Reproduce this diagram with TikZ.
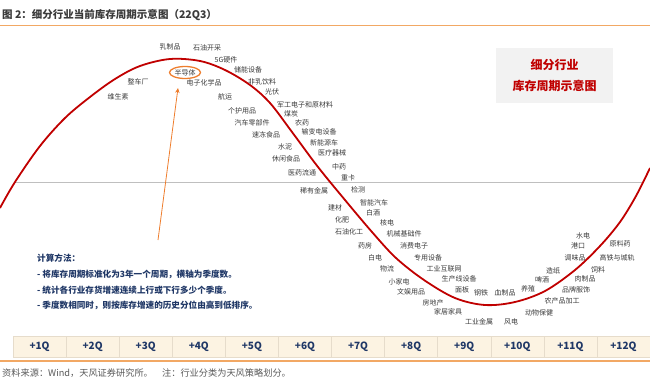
\documentclass[tikz,border=0pt]{standalone}
\usepackage{fontspec}
\setmainfont{Noto Sans CJK SC}
\usetikzlibrary{arrows.meta,shapes.geometric}
\definecolor{cyclered}{HTML}{C00000}
\definecolor{semiorange}{HTML}{EE7D2C}
\definecolor{rulecolor}{HTML}{F2A864}
\definecolor{labgray}{HTML}{3A3A3A}
\definecolor{navy}{HTML}{1F3766}
\definecolor{bandfill}{HTML}{FCF3E2}
\definecolor{bandline}{HTML}{E6DCCB}

\begin{document}
\begin{tikzpicture}[x=1pt,y=-1pt,
lab/.style={font=\fontsize{7}{7.5}\selectfont,text=labgray,inner sep=0pt},
meth/.style={anchor=west,inner sep=0pt,font=\fontsize{8.6}{9}\selectfont\bfseries,text=navy},
qcell/.style={draw=bandline,fill=bandfill,minimum width=53.08pt,minimum height=21pt,inner sep=0pt,font=\fontsize{10}{11}\selectfont\bfseries,text=navy},
arr/.style={-{Stealth[length=5pt,width=4.5pt]},draw=semiorange,line width=0.8pt}]
\useasboundingbox (0,0) rectangle (650,383);
% title and rules
\node[anchor=west,inner sep=0pt,font=\fontsize{10.5}{11}\selectfont\bfseries,text=labgray] (title) at (2,15) {图 2：细分行业当前库存周期示意图（22Q3）};
\coordinate (rtl) at (0,25.5); \coordinate (rtr) at (650,25.5);
\draw[rulecolor,line width=1.4pt] (rtl)--(rtr);
% legend box
\node[fill=black!5,minimum width=117pt,minimum height=55pt,align=center,font=\fontsize{12}{21}\selectfont\bfseries,text=cyclered] (key) at (554.5,75.5) {细分行业\\库存周期示意图};
% mid line and cycle curve
\coordinate (ml) at (15,182); \coordinate (mr) at (642,182);
\draw[black!25,line width=0.6pt] (ml)--(mr);
\draw[cyclered,line width=1.8pt] plot[smooth,tension=0.55] coordinates {(0,208) (15,182) (40,146) (65,118) (90,97) (115,79) (140,66) (170,59) (200,61) (225,70) (250,85) (270,103) (292,132) (318,167) (345,200) (372,232) (396,258) (424,280) (455,298) (485,305) (515,302) (545,291) (575,270) (600,246) (620,222) (636,196) (650,168)};
% industries
\foreach \x/\y/\t [count=\i] in {170/47/乳制品,207/48/石油开采,226/60/5G硬件,248/70/储能设备,262/82/非乳饮料,272/92/光伏,138/82/整车厂,118/97/维生素,204/83/电子化学品,225/97/航运,242/111/个护用品,252/123/汽车零部件,266/135/速冻食品,305/105/军工电子和原材料,291/114/煤炭,302/123/农药,319/132/输变电设备,285/147/水泥,324/143/新能源车,286/159/休闲食品,332/153/医疗器械,339/167/中药,302/173/医药流通,348/178/重卡,314/191/稀有金属,358/190/检测,374/203/智能汽车,335/208/建材,373/213/白酒,342/220/化肥,387/223/核电,349/232/石油化工,404/234/机械基础件,365/246/药房,414/246/消费电子,375/258/白电,428/258/专用设备,387/269/物流,444/269/工业互联网,399/282/小家电,459/279/生产线设备,411/292/文娱用品,462/290/面板,481/293/钢铁,505/293/血制品,528/289/养殖,433/303/房地产,448/312/家居家具,479/322/工业金属,511/322/风电,539/313/动物保健,562/301/农产品加工,576/290/品牌服饰,542/280/啤酒,585/279/肉制品,553/271/造纸,598/270/饲料,575/258/调味品,617/258/高铁与城轨,578/246/港口,620/244/原料药,583/236/水电}
  \node[lab] (ind\i) at (\x,\y) {\t};
\node[lab,ellipse,draw=semiorange,line width=1.3pt,minimum width=31pt,minimum height=12pt] (semi) at (185,72.5) {半导体};
\coordinate (tail) at (158,240); \coordinate (tip) at (178,88);
\draw[arr] (tail)--(tip);
% method notes
\node[meth] (m0) at (37,258) {计算方法：};
\node[meth] (m1) at (37,274) {- 将库存周期标准化为3年一个周期，横轴为季度数。};
\node[meth] (m2) at (37,290) {- 统计各行业存货增速连续上行或下行多少个季度。};
\node[meth] (m3) at (37,305) {- 季度数相同时，则按库存增速的历史分位由高到低排序。};
% quarter axis
\foreach \i in {1,...,12}
  \node[qcell] (q\i) at ({13+53.083*(\i-0.5)},346.5) {+\i Q};
\coordinate (rbl) at (0,361); \coordinate (rbr) at (650,361);
\draw[rulecolor,line width=1.4pt] (rbl)--(rbr);
\node[anchor=west,inner sep=0pt,font=\fontsize{9.2}{10}\selectfont,text=black!65] (src) at (2,373) {资料来源：Wind，天风证券研究所。\quad 注：行业分类为天风策略划分。};
\end{tikzpicture}
\end{document}
